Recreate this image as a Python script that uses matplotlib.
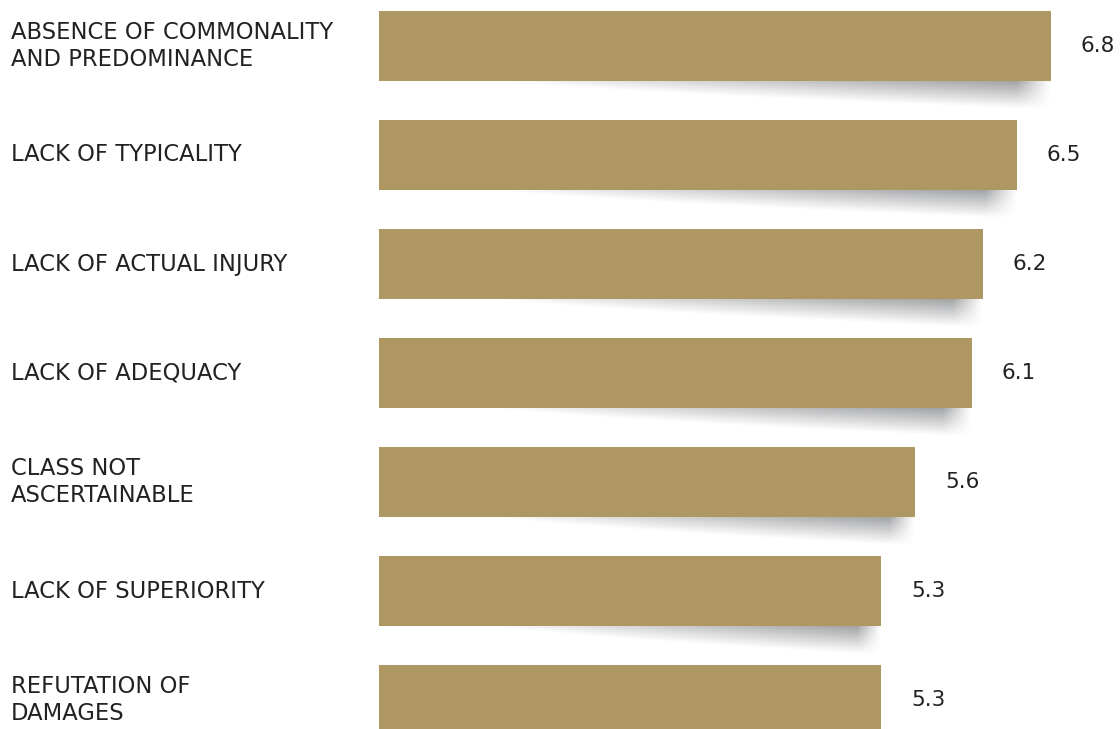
import numpy as np
import matplotlib
matplotlib.use("Agg")
import matplotlib.pyplot as plt
from matplotlib.transforms import blended_transform_factory

categories = [
    "ABSENCE OF COMMONALITY\nAND PREDOMINANCE",
    "LACK OF TYPICALITY",
    "LACK OF ACTUAL INJURY",
    "LACK OF ADEQUACY",
    "CLASS NOT\nASCERTAINABLE",
    "LACK OF SUPERIORITY",
    "REFUTATION OF\nDAMAGES",
]
values = [6.8, 6.5, 6.2, 6.1, 5.6, 5.3, 5.3]
value_labels = ["6.8", "6.5", "6.2", "6.1", "5.6", "5.3", "5.3"]

BAR_COLOR = "#AF9764"
TEXT_COLOR = "#222222"
FONT = "DejaVu Sans"
FS = 16.3

W, H = 1120, 729
fig = plt.figure(figsize=(W / 100, H / 100), dpi=100)
ax = fig.add_axes([379 / W, 0, 1 - 379 / W, 1])
XLIM = (0.871, 7.41)
YLIM = (6.266, -0.422)
ax.axis("off")

ypos = np.arange(len(values))
bar_h = 0.642
ax.barh(ypos, values, height=bar_h, left=0, color=BAR_COLOR, zorder=3)

# soft curled shadow under each bar, darkest toward the right end
shadow_depth = 0.27
nx, ny = 600, 100
uu = np.linspace(0, 1, nx)[None, :]
vv = np.linspace(0, 1, ny)[:, None]
for y, v in zip(ypos, values):
    xs, xe = 1.85, v
    ybot = y + bar_h / 2
    depth = np.clip(uu ** 0.75, 1e-3, 1)
    t = vv / depth
    vert = np.clip(1 - t, 0, 1) ** 1.0
    horiz = uu ** 0.8
    right = np.clip((1 - uu) / 0.06, 0, 1) ** 1.1
    alpha = 0.75 * vert * horiz * right
    img = np.zeros((ny, nx, 4))
    img[..., 0] = 0.47
    img[..., 1] = 0.475
    img[..., 2] = 0.49
    img[..., 3] = alpha
    ax.imshow(img, extent=[xs, xe, ybot + shadow_depth, ybot], origin="upper",
              aspect="auto", interpolation="bilinear", zorder=1)

ax.set_xlim(*XLIM)
ax.set_ylim(*YLIM)

trans = blended_transform_factory(fig.transFigure, ax.transData)
for y, label in zip(ypos, categories):
    ax.text(11 / W, y, label, transform=trans, ha="left", va="center",
            fontsize=FS, color=TEXT_COLOR, family=FONT, linespacing=1.2)

for y, v, lab in zip(ypos, values, value_labels):
    ax.annotate(lab, xy=(v, y), xytext=(30, 0), textcoords="offset pixels",
                ha="left", va="center", fontsize=FS - 0.8, color=TEXT_COLOR,
                family=FONT)

fig.savefig("out.png", dpi=100)
